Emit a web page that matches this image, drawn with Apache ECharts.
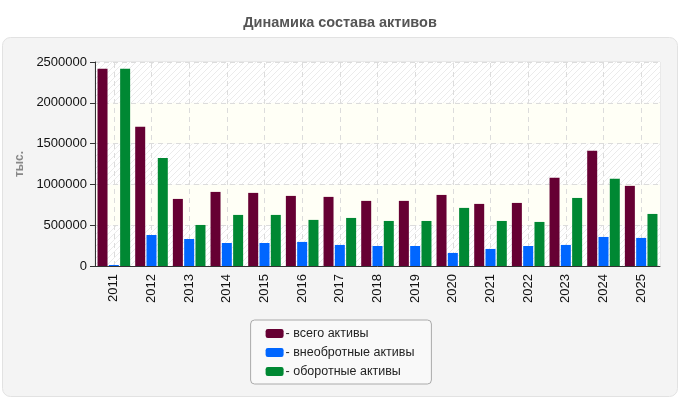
<!DOCTYPE html>
<html>
<head>
<meta charset="utf-8">
<script src="https://cdn.jsdelivr.net/npm/echarts@6/dist/echarts.min.js"></script>
<style>
  html, body { margin: 0; padding: 0; background: #fff; }
  #chart { width: 680px; height: 400px; }
</style>
</head>
<body>
<div id="chart"></div>
<script>
(function () {
  var years = ["2011", "2012", "2013", "2014", "2015", "2016", "2017", "2018",
    "2019", "2020", "2021", "2022", "2023", "2024", "2025"];
  var totalAssets = [2418000, 1706000, 822000, 908000, 896000, 859000, 847000, 798000,
    798000, 871000, 761000, 773000, 1080000, 1411000, 982000];
  var nonCurrent = [12000, 380000, 331000, 282000, 282000, 295000, 258000, 245000,
    245000, 160000, 209000, 245000, 258000, 356000, 344000];
  var current = [2418000, 1325000, 503000, 626000, 626000, 565000, 589000, 552000,
    552000, 712000, 552000, 540000, 834000, 1068000, 638000];

  // диагональная штриховка для фона
  var cv = document.createElement("canvas");
  cv.width = 6; cv.height = 6;
  var ctx = cv.getContext("2d");
  ctx.fillStyle = "#ffffff";
  ctx.fillRect(0, 0, 6, 6);
  ctx.strokeStyle = "#ebebeb";
  ctx.lineWidth = 1;
  ctx.beginPath();
  ctx.moveTo(0, 6); ctx.lineTo(6, 0);
  ctx.moveTo(-3, 3); ctx.lineTo(3, -3);
  ctx.moveTo(3, 9); ctx.lineTo(9, 3);
  ctx.stroke();
  var stripe = { image: cv, repeat: "repeat" };

  var myChart = echarts.init(document.getElementById("chart"));
  var font = "Liberation Sans, Arial, sans-serif";

  // вертикальные линии сетки по центрам категорий (на средней серии)
  var vLines = years.map(function (y) { return { xAxis: y }; });

  var option = {
    animation: false,
    textStyle: { fontFamily: font },
    graphic: [{
      type: "rect",
      left: 2, top: 37, z: -10,
      shape: { width: 675, height: 359, r: 8 },
      style: { fill: "#f4f4f4", stroke: "#e2e2e2", lineWidth: 1 }
    }],
    title: {
      text: "Динамика состава активов",
      left: "center",
      top: 10,
      textStyle: { fontSize: 14.5, fontWeight: "bold", color: "#555", fontFamily: font }
    },
    legend: {
      orient: "vertical",
      left: "center",
      top: 320,
      padding: [7, 17, 6, 15],
      itemGap: 6,
      itemWidth: 18,
      itemHeight: 9,
      icon: "roundRect",
      backgroundColor: "#f9f9f9",
      borderColor: "#aaa",
      borderWidth: 1,
      borderRadius: 4,
      formatter: function (name) { return "- " + name; },
      textStyle: { fontSize: 12.5, color: "#222", padding: [0, 0, 0, -3] }
    },
    grid: {
      left: 95, right: 20, top: 62, bottom: 134,
      show: true,
      borderColor: "#dddddd",
      backgroundColor: "transparent"
    },
    xAxis: {
      type: "category",
      data: years,
      axisLine: { lineStyle: { color: "#333" } },
      axisTick: { alignWithLabel: true, length: 5, lineStyle: { color: "#333" } },
      axisLabel: { rotate: 90, fontSize: 13, color: "#111", margin: 8 },
      splitLine: { show: false }
    },
    yAxis: {
      type: "value",
      min: 0, max: 2500000, interval: 500000,
      name: "тыс.",
      nameLocation: "middle",
      nameGap: 69,
      nameTextStyle: { color: "#888", fontSize: 12, fontWeight: "bold" },
      axisLine: { show: true, lineStyle: { color: "#333" } },
      axisTick: { show: true, length: 5, lineStyle: { color: "#333" } },
      axisLabel: { fontSize: 13, color: "#111", margin: 8, formatter: function (v) { return String(v); } },
      splitLine: { lineStyle: { color: "#dcdcdc", type: [5, 4] } },
      splitArea: { show: true, areaStyle: { color: [stripe, "#fffff6"] } }
    },
    series: [
      { name: "всего активы", type: "bar", data: totalAssets, barWidth: 10, barGap: "13%",
        itemStyle: { color: "#660033" } },
      { name: "внеобротные активы", type: "bar", data: nonCurrent, barWidth: 10, barGap: "13%",
        itemStyle: { color: "#0066ff" },
        markLine: {
          silent: true, symbol: "none", z: 1, animation: false,
          label: { show: false },
          lineStyle: { color: "#dcdcdc", type: [5, 4], width: 1 },
          data: vLines
        } },
      { name: "оборотные активы", type: "bar", data: current, barWidth: 10, barGap: "13%",
        itemStyle: { color: "#008833" } }
    ]
  };

  myChart.setOption(option);
})();
</script>
</body>
</html>
